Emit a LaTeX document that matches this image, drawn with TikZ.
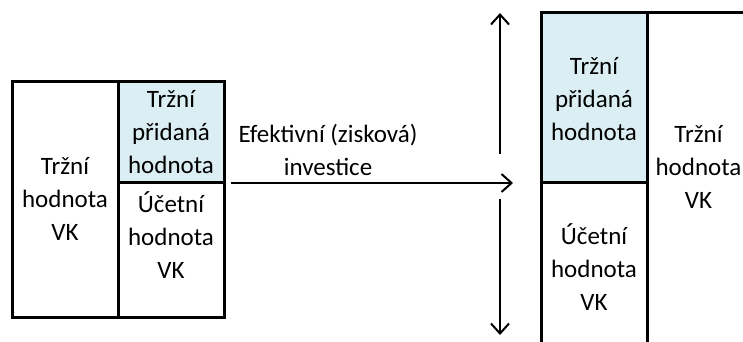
\documentclass[tikz,border=0pt]{standalone}
\usepackage{fontspec}
\setmainfont{Carlito}
\usetikzlibrary{arrows.meta}
\definecolor{paleblue}{RGB}{218,238,243}
\begin{document}
\begin{tikzpicture}[x=1pt,y=-1pt,
  cell/.style={draw=black, line width=3pt, inner sep=0pt, outer sep=0pt},
  txt/.style={font=\fontsize{25}{33}\selectfont, align=center, inner sep=0pt, text=black},
  flow/.style={line width=2pt, -{Straight Barb[length=10pt,width=18pt,line width=2pt]}}
]
\useasboundingbox (0,0) rectangle (743,342);
\fill[white] (0,0) rectangle (743,342);
\begin{scope}
\clip (0,0) rectangle (743,342);

% before the investment: equity split into book value and added value
\node[cell, minimum width=106pt, minimum height=235pt] (lmv) at (65,199.5) {};
\node[cell, fill=paleblue, minimum width=106pt, minimum height=100pt] (lmva) at (171,132) {};
\node[cell, minimum width=106pt, minimum height=135pt] (lbv) at (171,249.5) {};

\node[txt] (lmvT) at (65,199) {Tržní\\hodnota\\VK};
\node[txt] (lmvaT) at (171,132) {Tržní\\přidaná\\hodnota};
\node[txt] (lbvT) at (171,235) {Účetní\\hodnota\\VK};

% after the investment: the blocks grow
\node[cell, minimum width=153pt, minimum height=387pt] (rmv) at (723.5,206.5) {};
\node[cell, fill=paleblue, minimum width=106pt, minimum height=169pt] (rmva) at (594,97.5) {};
\node[cell, minimum width=106pt, minimum height=220pt] (rbv) at (594,292) {};

\node[txt] (rmvaT) at (594,99) {Tržní\\přidaná\\hodnota};
\node[txt] (rbvT) at (594,267) {Účetní\\hodnota\\VK};
\node[txt] (rmvT) at (698.5,167) {Tržní\\hodnota\\VK};

% investment arrow and the growth arrows
\coordinate (a0) at (231,183);
\coordinate (a1) at (513,183);
\draw[flow] (a0) -- (a1);
\node[txt] (invT) at (328,150) {Efektivní (zisková)\\investice};

\coordinate (u0) at (500,154);
\coordinate (u1) at (500,13);
\coordinate (d0) at (500,199);
\coordinate (d1) at (500,335);
\draw[flow] (u0) -- (u1);
\draw[flow] (d0) -- (d1);
\end{scope}
\end{tikzpicture}
\end{document}
